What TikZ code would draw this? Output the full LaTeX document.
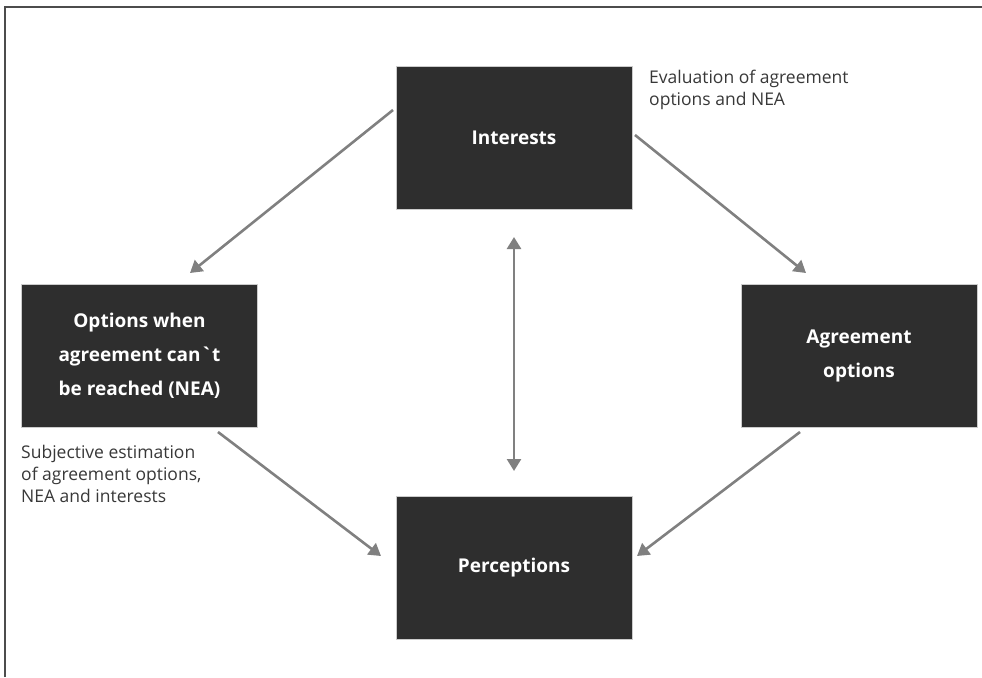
\documentclass[tikz,border=0pt]{standalone}
\usepackage{fontspec}
\setmainfont{Open Sans}
% same family without the TeX input mapping, so ` stays a plain grave
\newfontfamily\rawfont{Open Sans}[Ligatures=TeXOff]
\usetikzlibrary{arrows.meta}
\begin{document}
\begin{tikzpicture}[x=1pt,y=-1pt,
  box/.style={draw=black!20, line width=0.8pt, fill=black!82, text=white,
    minimum width=236pt, minimum height=143pt, align=center, inner sep=0pt,
    font=\fontsize{19}{34}\selectfont\bfseries},
  note/.style={anchor=north west, align=left, inner sep=0pt, text=black!78,
    font=\fontsize{17.5}{22}\selectfont},
  link/.style={draw=black!50, line width=2.6pt,
    -{Triangle[length=12pt,width=14pt]}, shorten >=0pt},
  both/.style={link, {Triangle[length=12pt,width=14pt]}-{Triangle[length=12pt,width=14pt]}}]
  \useasboundingbox (0,0) rectangle (982,677);
  % frame edges
  \draw[black!70, line width=1.6pt] (5,677) -- (5,7) -- (982,7);

  \node[box] (int) at (514,137.5) {Interests};
  \node[box] (nea) at (139.5,356) {Options when\\agreement can{\rawfont\bfseries `}t\\be reached (NEA)};
  \node[box] (agr) at (859,356) {Agreement\\options};
  \node[box] (per) at (514,568) {Perceptions};

  \node[note] (evn) at (649,70) {Evaluation of agreement\\options and NEA};
  \node[note] (sen) at (21,445) {Subjective estimation\\of agreement options,\\NEA and interests};

  \coordinate (a1) at (393,110);  \coordinate (a1e) at (190,273);
  \coordinate (a2) at (635,135);  \coordinate (a2e) at (806,273);
  \coordinate (a3) at (514,237);  \coordinate (a3e) at (514,471);
  \coordinate (a4) at (218,432);  \coordinate (a4e) at (381,556);
  \coordinate (a5) at (800,432);  \coordinate (a5e) at (637,556);

  \draw[link] (a1) -- (a1e);
  \draw[link] (a2) -- (a2e);
  \draw[both] (a3) -- (a3e);
  \draw[link] (a4) -- (a4e);
  \draw[link] (a5) -- (a5e);
\end{tikzpicture}
\end{document}
